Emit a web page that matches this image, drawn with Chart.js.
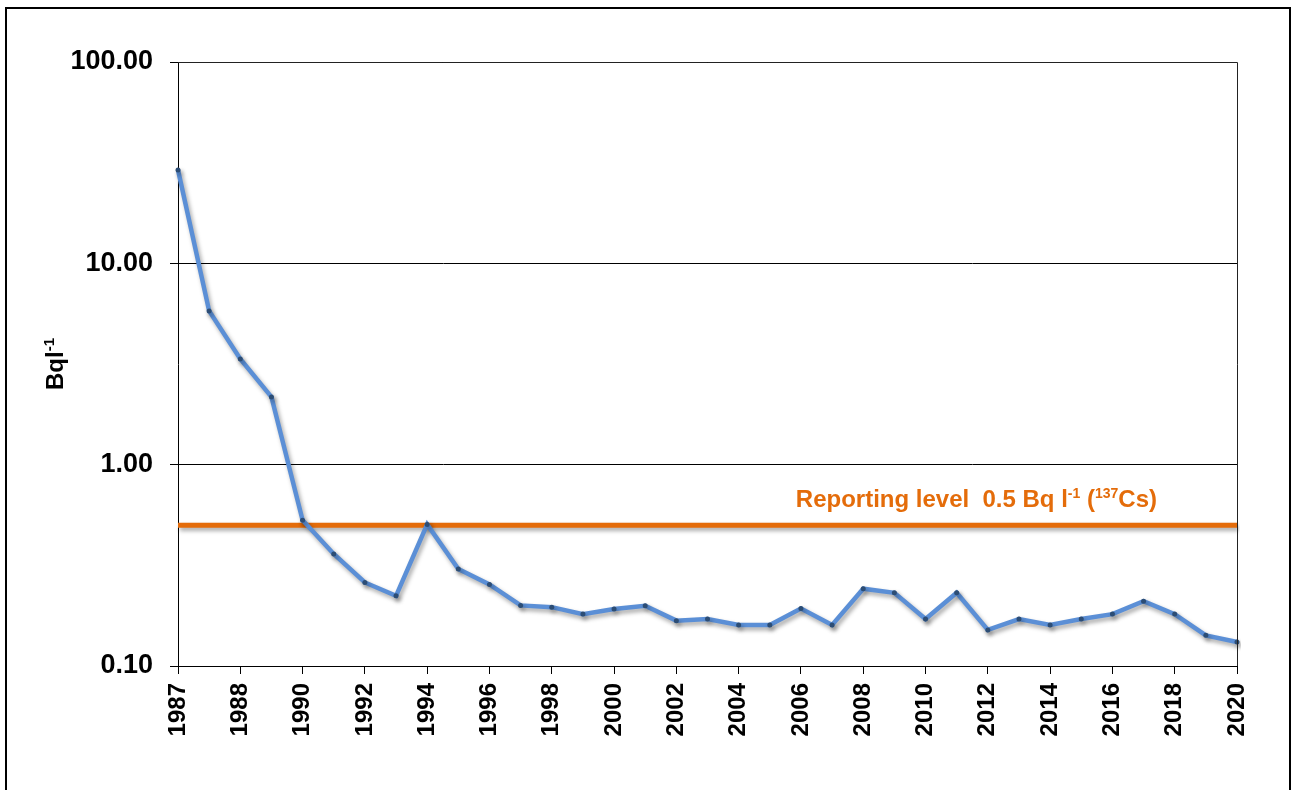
<!DOCTYPE html>
<html>
<head>
<meta charset="utf-8">
<script src="https://cdn.jsdelivr.net/npm/chart.js@4/dist/chart.umd.min.js"></script>
<style>
  html, body { margin: 0; padding: 0; background: #fff; }
  canvas { display: block; }
</style>
</head>
<body>
<canvas id="canvas" width="1296" height="790"></canvas>
<script>
// categories (two samples in 1987, every other label shown)
var years = ['1987','1987','1988','1989','1990','1991','1992','1993','1994','1995',
             '1996','1997','1998','1999','2000','2001','2002','2003','2004','2005',
             '2006','2007','2008','2009','2010','2011','2012','2013','2014','2015',
             '2016','2017','2018','2019','2020'];
// activity, Bq/l
var valor = [29.1, 5.8, 3.35, 2.17, 0.53, 0.36, 0.26, 0.223, 0.505, 0.303,
             0.254, 0.20, 0.196, 0.181, 0.192, 0.199, 0.168, 0.171, 0.160, 0.160,
             0.193, 0.160, 0.242, 0.231, 0.171, 0.231, 0.151, 0.171, 0.160, 0.171,
             0.181, 0.210, 0.181, 0.142, 0.1315];
var reportingLevel = 0.5;
var yTicks = [0.1, 1, 10, 100];

var FONT = 'Arial, "Liberation Sans", sans-serif';
var ORANGE = '#E46C0A';

// white background, outer frame, plot frame, texts with superscripts
var decor = {
    id: 'decor',
    beforeDraw: function(chart){
        var c = chart.ctx;
        c.save();
        c.fillStyle = '#fff';
        c.fillRect(0, 0, chart.width, chart.height);
        c.restore();
    },
    beforeDatasetDraw: function(chart, args){
        var c = chart.ctx;
        c.save();
        c.shadowColor = 'rgba(0,0,0,0.35)';
        c.shadowBlur = 4;
        c.shadowOffsetX = 2;
        c.shadowOffsetY = 3;
    },
    afterDatasetDraw: function(chart){
        chart.ctx.restore();
    },
    afterDraw: function(chart){
        var c = chart.ctx, a = chart.chartArea;
        c.save();
        // outer frame
        c.strokeStyle = '#000';
        c.lineWidth = 2;
        c.strokeRect(6, 8, 1284, 800);
        // plot frame right / top
        c.lineWidth = 1;
        c.strokeStyle = '#222';
        c.beginPath();
        c.moveTo(a.left, Math.round(a.top) + 0.5);
        c.lineTo(Math.round(a.right) + 0.5, Math.round(a.top) + 0.5);
        c.lineTo(Math.round(a.right) + 0.5, a.bottom);
        c.stroke();

        // reporting level label
        var y = chart.scales.y.getPixelForValue(reportingLevel) - 18;
        var parts = [
            ['Reporting level  0.5 Bq l', 0, 24],
            ['-1', 9, 14],
            [' (', 0, 24],
            ['137', 9, 14],
            ['Cs)', 0, 24]
        ];
        c.fillStyle = ORANGE;
        c.textBaseline = 'alphabetic';
        var total = 0;
        parts.forEach(function(p){ c.font = 'bold ' + p[2] + 'px ' + FONT; total += c.measureText(p[0]).width; });
        var x = a.right - 80 - total;
        parts.forEach(function(p){
            c.font = 'bold ' + p[2] + 'px ' + FONT;
            c.fillText(p[0], x, y - p[1]);
            x += c.measureText(p[0]).width;
        });

        // y-axis title
        var tparts = [['Bql', 0, 24], ['-1', 9, 15]];
        c.fillStyle = '#000';
        var tw = 0;
        tparts.forEach(function(p){ c.font = 'bold ' + p[2] + 'px ' + FONT; tw += c.measureText(p[0]).width; });
        c.translate(63, (a.top + a.bottom) / 2);
        c.rotate(-Math.PI / 2);
        var tx = -tw / 2;
        tparts.forEach(function(p){
            c.font = 'bold ' + p[2] + 'px ' + FONT;
            c.fillText(p[0], tx, -p[1]);
            tx += c.measureText(p[0]).width;
        });
        c.restore();
    }
};

const ctx = document.getElementById('canvas').getContext('2d');
const chart = new Chart(ctx, {
    type: 'line',
    data: {
        labels: years,
        datasets: [{
            label: 'Bq/l',
            data: valor,
            borderColor: '#5B8FD6',
            backgroundColor: '#2C4D75',
            borderWidth: 4.5,
            pointRadius: 2.5,
            pointBorderWidth: 0,
            pointBackgroundColor: '#2C4D75',
            tension: 0
        },
        {
            label: 'Reporting level',
            data: years.map(function(){ return reportingLevel; }),
            borderColor: ORANGE,
            borderWidth: 5,
            pointRadius: 0,
            tension: 0
        }]
    },
    options: {
        responsive: false,
        animation: false,
        devicePixelRatio: 1,
        layout: { padding: { left: 0, top: 62, right: 59, bottom: 0 } },
        plugins: {
            legend: { display: false },
            tooltip: { enabled: false }
        },
        scales: {
            x: {
                type: 'category',
                afterFit: function(s){ s.height = 124; },
                border: { color: '#000', width: 1 },
                grid: {
                    drawOnChartArea: false,
                    tickLength: 8,
                    color: function(c){ return c.index % 2 === 0 ? '#000' : 'rgba(0,0,0,0)'; }
                },
                ticks: {
                    autoSkip: false,
                    minRotation: 90,
                    maxRotation: 90,
                    padding: 9,
                    color: '#000',
                    font: { family: FONT, size: 24, weight: 'bold' },
                    callback: function(v, i){ return i % 2 === 0 ? this.getLabelForValue(v) : ''; }
                }
            },
            y: {
                type: 'logarithmic',
                min: 0.1,
                max: 100,
                afterFit: function(s){ s.width = 178; },
                afterBuildTicks: function(s){
                    s.ticks = yTicks.map(function(v){ return { value: v }; });
                },
                border: { color: '#000', width: 1 },
                grid: { color: '#000', lineWidth: 1, tickLength: 8 },
                ticks: {
                    padding: 17,
                    color: '#000',
                    font: { family: FONT, size: 27, weight: 'bold' },
                    callback: function(v){ return Number(v).toFixed(2); }
                }
            }
        }
    },
    plugins: [decor]
});
</script>
</body>
</html>
